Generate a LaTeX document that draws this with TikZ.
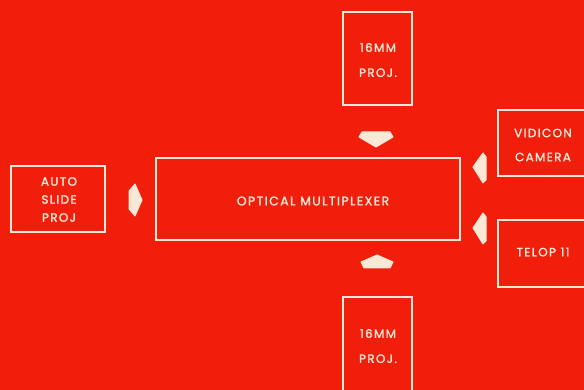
\documentclass[tikz,border=0pt]{standalone}
\usepackage{fontspec}
\setmainfont[LetterSpace=11,FakeBold=1.6]{Poppins}
\definecolor{bgred}{RGB}{240,30,10}
\definecolor{cream}{RGB}{250,232,215}
\begin{document}
\begin{tikzpicture}[x=1pt,y=-1pt,
  unit/.style={draw=cream,line width=2pt,inner sep=0pt},
  lbl/.style={text=cream,font=\fontsize{12}{12}\selectfont,align=center,inner sep=0pt},
  blockarrow/.style={fill=cream,draw=cream,line width=1pt,line join=round}]
\useasboundingbox (0,0) rectangle (584,390);
\clip (0,0) rectangle (584,390);
\fill[bgred] (0,0) rectangle (584,390);
% boxes
\node[unit,minimum width=94pt,minimum height=66pt] (auto) at (58,199) {};
\node[unit,minimum width=69pt,minimum height=93pt] (topproj) at (377.5,58.5) {};
\node[unit,minimum width=304pt,minimum height=82pt] (mux) at (308,199) {};
\node[unit,minimum width=122pt,minimum height=66pt] (vid) at (559,143) {};
\node[unit,minimum width=122pt,minimum height=67pt] (telop) at (559,253.5) {};
\node[unit,minimum width=69pt,minimum height=103pt] (botproj) at (377.5,348.5) {};
% labels
\node[lbl,font=\fontsize{12}{18}\selectfont] (autol) at (59,199.5) {AUTO\\SLIDE\\PROJ};
\node[lbl,font=\fontsize{12}{25}\selectfont] (topl) at (378,60) {16MM\\PROJ.};
\node[lbl,font=\fontsize{12.5}{12}\selectfont] (muxl) at (313,201) {OPTICAL MULTIPLEXER};
\node[lbl,font=\fontsize{12}{24}\selectfont] (vidl) at (543,145) {VIDICON\\CAMERA};
\node[lbl] (telopl) at (543,252) {TELOP 11};
\node[lbl,font=\fontsize{12}{25}\selectfont] (botl) at (378,346) {16MM\\PROJ.};
% block arrows
\filldraw[blockarrow] (129,191) -- (135,184) -- (142,200) -- (135,216) -- (129,209) -- cycle;
\filldraw[blockarrow] (362,132) -- (390,132) -- (393,137) -- (376,147) -- (359,137) -- cycle;
\filldraw[blockarrow] (364,268) -- (390,268) -- (393,262) -- (377,255) -- (361,262) -- cycle;
\filldraw[blockarrow] (473,167) -- (483,153) -- (486,157) -- (486,180) -- (483,183) -- cycle;
\filldraw[blockarrow] (473,228) -- (483,213) -- (486,217) -- (486,241) -- (483,244) -- cycle;
\end{tikzpicture}
\end{document}
